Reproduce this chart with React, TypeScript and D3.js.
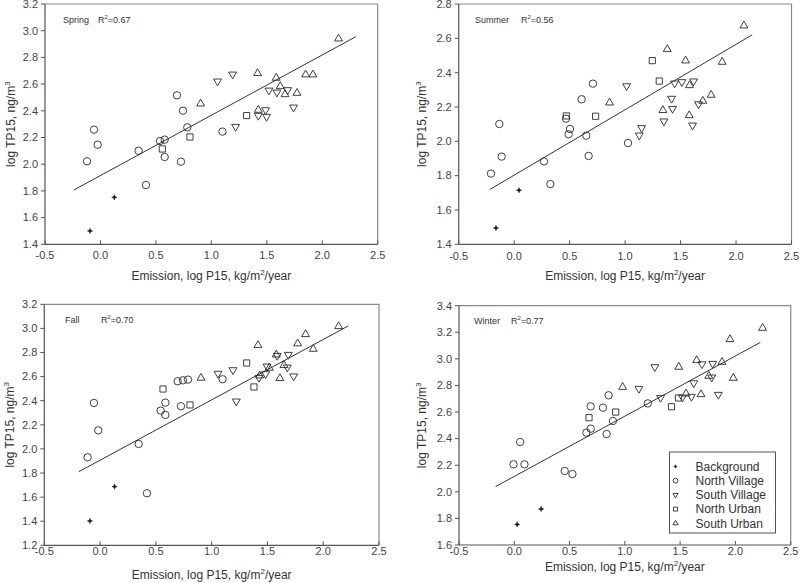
import React from "react";
import * as d3 from "d3";

type P = [number, number];

// ---------- DATA ----------
const groups = ["Background", "North Village", "South Village", "North Urban", "South Urban"];
const xTicks = [-0.5, 0.0, 0.5, 1.0, 1.5, 2.0, 2.5];

const springBG: P[] = [[-0.094, 1.5], [0.125, 1.752]];
const springNV: P[] = [[-0.121, 2.022], [-0.058, 2.259], [-0.025, 2.146], [0.344, 2.101], [0.41, 1.844], [0.537, 2.174], [0.579, 2.184], [0.579, 2.054], [0.69, 2.516], [0.744, 2.401], [0.783, 2.276], [0.726, 2.019], [1.1, 2.244]];
const springSV: P[] = [[1.056, 2.621], [1.192, 2.673], [1.219, 2.281], [1.519, 2.553], [1.489, 2.406], [1.498, 2.356], [1.423, 2.364], [1.591, 2.538], [1.688, 2.556], [1.741, 2.426]];
const springNU: P[] = [[0.558, 2.114], [0.807, 2.204], [1.318, 2.364]];
const springSU: P[] = [[0.903, 2.453], [1.417, 2.681], [1.423, 2.406], [1.585, 2.646], [1.621, 2.583], [1.664, 2.523], [1.772, 2.533], [1.85, 2.671], [1.916, 2.671], [2.147, 2.94]];

const summerBG: P[] = [[-0.164, 1.495], [0.044, 1.715]];
const summerNV: P[] = [[-0.209, 1.812], [-0.134, 2.101], [-0.113, 1.911], [0.269, 1.883], [0.326, 1.751], [0.467, 2.132], [0.503, 2.072], [0.491, 2.041], [0.608, 2.245], [0.71, 2.336], [0.65, 2.033], [0.671, 1.915], [1.026, 1.99]];
const summerSV: P[] = [[1.014, 2.322], [1.128, 2.035], [1.149, 2.078], [1.35, 2.117], [1.419, 2.249], [1.428, 2.19], [1.446, 2.338], [1.512, 2.346], [1.617, 2.35], [1.608, 2.093], [1.662, 2.217]];
const summerNU: P[] = [[0.47, 2.148], [0.734, 2.146], [1.245, 2.47], [1.308, 2.351]];
const summerSU: P[] = [[0.86, 2.225], [1.38, 2.536], [1.545, 2.47], [1.875, 2.462], [2.071, 2.674], [1.341, 2.181], [1.578, 2.151], [1.581, 2.326], [1.701, 2.235], [1.776, 2.27]];

const fallBG: P[] = [[-0.091, 1.402], [0.13, 1.687]];
const fallNV: P[] = [[-0.112, 1.93], [-0.055, 2.381], [-0.016, 2.154], [0.346, 2.041], [0.42, 1.632], [0.543, 2.318], [0.585, 2.384], [0.585, 2.282], [0.695, 2.561], [0.743, 2.569], [0.788, 2.575], [0.725, 2.354], [1.098, 2.578]];
const fallSV: P[] = [[1.057, 2.625], [1.191, 2.655], [1.221, 2.395], [1.424, 2.591], [1.484, 2.622], [1.496, 2.685], [1.588, 2.774], [1.687, 2.782], [1.678, 2.677], [1.735, 2.603]];
const fallNU: P[] = [[0.564, 2.497], [0.806, 2.365], [1.314, 2.713], [1.379, 2.514]];
const fallSU: P[] = [[0.904, 2.589], [1.415, 2.86], [1.43, 2.608], [1.517, 2.672], [1.579, 2.782], [1.612, 2.586], [1.648, 2.694], [1.771, 2.874], [1.842, 2.951], [1.911, 2.829], [2.138, 3.017]];

const winterBG: P[] = [[0.026, 1.755], [0.243, 1.871]];
const winterNV: P[] = [[-0.007, 2.207], [0.053, 2.375], [0.092, 2.207], [0.456, 2.157], [0.526, 2.134], [0.652, 2.445], [0.691, 2.475], [0.691, 2.643], [0.802, 2.633], [0.835, 2.435], [0.853, 2.726], [0.892, 2.533], [1.208, 2.665]];
const winterSV: P[] = [[1.127, 2.776], [1.271, 2.939], [1.323, 2.708], [1.521, 2.711], [1.602, 2.716], [1.623, 2.818], [1.698, 2.961], [1.786, 2.861], [1.795, 2.964], [1.846, 2.731]];
const winterNU: P[] = [[0.676, 2.558], [0.917, 2.6], [1.422, 2.64], [1.485, 2.706]];
const winterSU: P[] = [[0.98, 2.788], [1.488, 2.939], [1.553, 2.738], [1.65, 2.989], [1.689, 2.733], [1.759, 2.871], [1.879, 2.976], [1.951, 3.147], [1.981, 2.856], [2.246, 3.232]];

const seasonNames = ["Spring", "Summer", "Fall", "Winter"];
const r2Values = ["0.67", "0.56", "0.70", "0.77"];
const yDomains: P[] = [[1.4, 3.2], [1.4, 2.8], [1.2, 3.2], [1.6, 3.4]];
// regression lines: [x start, x end], slope, intercept
const fitRanges: P[] = [[-0.239, 2.303], [-0.218, 2.146], [-0.189, 2.225], [-0.169, 2.225]];
const fitSlopes = [0.4516, 0.381, 0.501, 0.453];
const fitIntercepts = [1.915, 1.803, 1.906, 2.116];

const seasonData: P[][][] = [
  [springBG, springNV, springSV, springNU, springSU],
  [summerBG, summerNV, summerSV, summerNU, summerSU],
  [fallBG, fallNV, fallSV, fallNU, fallSU],
  [winterBG, winterNV, winterSV, winterNU, winterSU],
];

// ---------- LAYOUT ----------
const FONT = "'Liberation Sans', Arial, Helvetica, sans-serif";
const layouts = [
  { x0: 45, x1: 377.7, yTop: 4, yBot: 244.3, tickDy: 15, ylabX: 11, xlabY: 280, nameX: 63, rX: 98, annY: 23 },
  { x0: 458.7, x1: 791.5, yTop: 4, yBot: 244.3, tickDy: 16, ylabX: 422, xlabY: 280, nameX: 475, rX: 521, annY: 23 },
  { x0: 44.3, x1: 379, yTop: 304.3, yBot: 545.3, tickDy: 10, ylabX: 10, xlabY: 579, nameX: 65, rX: 101, annY: 323 },
  { x0: 459, x1: 790.7, yTop: 305.7, yBot: 545, tickDy: 10, ylabX: 422, xlabY: 571, nameX: 474, rX: 511, annY: 324 },
];

const MARK = "#2a2a2a";

function Marker({ g, x, y, small }: { g: number; x: number; y: number; small?: boolean }) {
  const k = small ? 0.65 : 1;
  if (g === 0) {
    const a = 2.6 * k;
    const path = `M${-a},0L0,${-a * 0.35}L${a},0L0,${a * 0.35}Z M0,${-a}L${a * 0.35},0L0,${a}L${-a * 0.35},0Z`;
    return <path d={path} transform={`translate(${x},${y})`} fill="#111" stroke="#111" strokeWidth={0.5} />;
  }
  if (g === 1) return <circle cx={x} cy={y} r={3.7 * k} fill="none" stroke={MARK} strokeWidth={0.9} />;
  const sym =
    g === 3 ? d3.symbol(d3.symbolSquare, 38 * k * k) : d3.symbol(d3.symbolTriangle, 27 * k * k);
  const rot = g === 2 ? " rotate(180)" : "";
  return <path d={sym() || ""} transform={`translate(${x},${y})${rot}`} fill="none" stroke={MARK} strokeWidth={0.9} />;
}

function Panel({ i }: { i: number }) {
  const L = layouts[i];
  const x = d3.scaleLinear().domain([-0.5, 2.5]).range([L.x0, L.x1]);
  const y = d3.scaleLinear().domain(yDomains[i]).range([L.yBot, L.yTop]);
  const yTicks = d3.range(yDomains[i][0], yDomains[i][1] + 0.001, 0.2);
  const fr = fitRanges[i];
  const line = d3
    .line<number>()
    .x((d) => x(d))
    .y((d) => y(fitIntercepts[i] + fitSlopes[i] * d));
  const cx = (L.x0 + L.x1) / 2;
  const cy = (L.yTop + L.yBot) / 2;
  return (
    <g>
      {/* top & right frame */}
      <path d={`M${L.x0},${L.yTop}H${L.x1}V${L.yBot}`} fill="none" stroke="#8a8a8a" strokeWidth={1.2} />
      {/* axes */}
      <line x1={L.x0} x2={L.x0} y1={L.yTop} y2={L.yBot} stroke="#555" strokeWidth={1.2} />
      <line x1={L.x0} x2={L.x1} y1={L.yBot} y2={L.yBot} stroke="#555" strokeWidth={1.2} />
      {yTicks.map((t) => (
        <g key={"y" + t}>
          <line x1={L.x0 - 4} x2={L.x0} y1={y(t)} y2={y(t)} stroke="#555" strokeWidth={1} />
          <text x={L.x0 - 7} y={y(t)} dy="0.35em" textAnchor="end" fontSize={11} fill="#444" fontFamily={FONT}>
            {t.toFixed(1)}
          </text>
        </g>
      ))}
      {xTicks.map((t) => (
        <g key={"x" + t}>
          <line x1={x(t)} x2={x(t)} y1={L.yBot} y2={L.yBot - 4} stroke="#555" strokeWidth={1} />
          <text x={x(t)} y={L.yBot + L.tickDy} textAnchor="middle" fontSize={11} fill="#444" fontFamily={FONT}>
            {t.toFixed(1)}
          </text>
        </g>
      ))}
      {/* axis titles */}
      <text
        transform={`translate(${L.ylabX},${cy}) rotate(-90)`}
        textAnchor="middle"
        dy="0.35em"
        fontSize={12}
        fill="#333"
        fontFamily={FONT}
      >
        log TP15, ng/m<tspan dy="-5" fontSize={8}>3</tspan>
      </text>
      <text x={cx} y={L.xlabY} textAnchor="middle" fontSize={12} fill="#333" fontFamily={FONT}>
        Emission, log P15, kg/m<tspan dy="-5" fontSize={8}>2</tspan>
        <tspan dy="5">/year</tspan>
      </text>
      {/* annotation */}
      <text x={L.nameX} y={L.annY} fontSize={9} fill="#333" fontFamily={FONT}>
        {seasonNames[i]}
      </text>
      <text x={L.rX} y={L.annY} fontSize={9} fill="#333" fontFamily={FONT}>
        R<tspan dy="-4" fontSize={6}>2</tspan>
        <tspan dy="4">={r2Values[i]}</tspan>
      </text>
      {/* regression line */}
      <path d={line([fr[0], fr[1]]) || ""} fill="none" stroke="#333" strokeWidth={1} />
      {/* points */}
      {seasonData[i].map((pts, g) =>
        pts.map((p, j) => <Marker key={g + "-" + j} g={g} x={x(p[0])} y={y(p[1])} />)
      )}
    </g>
  );
}

function Legend() {
  const left = 669.5;
  const top = 452;
  const rowY = (k: number) => top + 14.5 + k * 14.2;
  return (
    <g>
      <rect x={left} y={top} width={106} height={81} fill="#fff" stroke="#555" strokeWidth={1} />
      {groups.map((name, k) => (
        <g key={name}>
          <Marker g={k} x={left + 6} y={rowY(k)} small />
          <text x={left + 26} y={rowY(k)} dy="0.35em" fontSize={12} fill="#333" fontFamily={FONT}>
            {name}
          </text>
        </g>
      ))}
    </g>
  );
}

export default function App() {
  return (
    <svg
      width={800}
      height={583}
      style={{ position: "absolute", left: 0, top: 0, background: "#fff" }}
    >
      <rect width={800} height={583} fill="#fff" />
      {[0, 1, 2, 3].map((i) => (
        <Panel key={i} i={i} />
      ))}
      <Legend />
    </svg>
  );
}
